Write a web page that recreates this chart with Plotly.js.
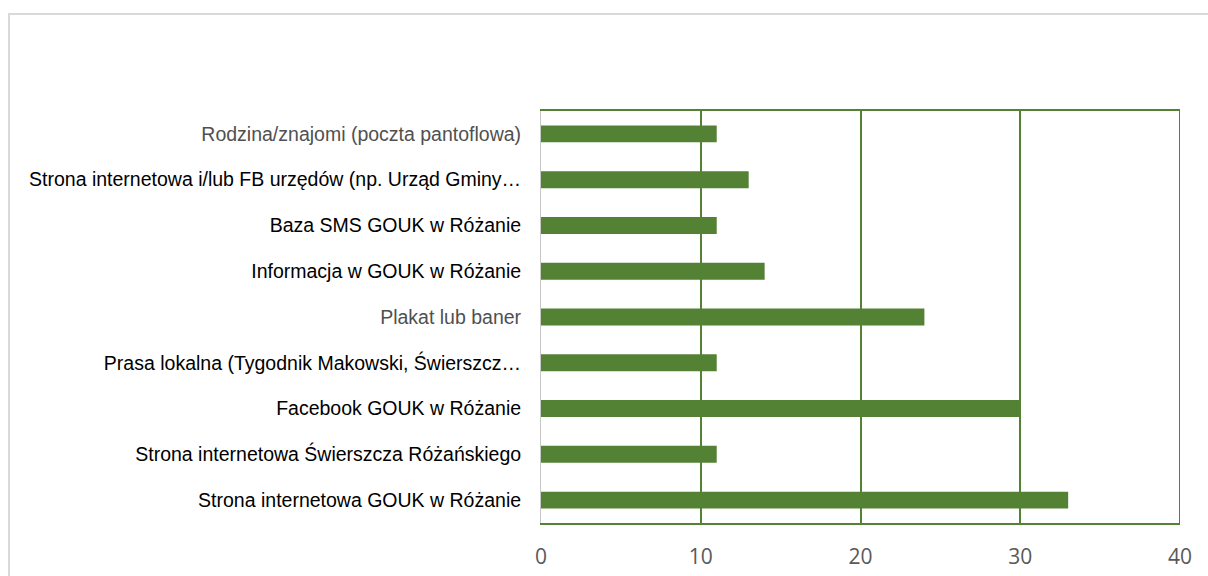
<!DOCTYPE html>
<html><head><meta charset="utf-8">
<script src="https://cdn.plot.ly/plotly-3.0.1.min.js"></script>
<style>
html,body{margin:0;padding:0;background:#fff;}
#wrap{position:relative;width:1208px;height:576px;overflow:hidden;}
#frame{position:absolute;left:8px;top:13px;width:1300px;height:700px;border:2px solid #d9d9d9;box-sizing:border-box;pointer-events:none;}
#chart{position:absolute;left:0;top:0;width:1208px;height:576px;}
</style></head>
<body><div id="wrap"><div id="chart"></div><div id="frame"></div></div>
<script>
const categories = [
  "Strona internetowa GOUK w Różanie",
  "Strona internetowa Świerszcza Różańskiego",
  "Facebook GOUK w Różanie",
  "Prasa lokalna (Tygodnik Makowski, Świerszcz…",
  "Plakat lub baner",
  "Informacja w GOUK w Różanie",
  "Baza SMS GOUK w Różanie",
  "Strona internetowa i/lub FB urzędów (np. Urząd Gminy…",
  "Rodzina/znajomi (poczta pantoflowa)"
];
const values = [33, 11, 30, 11, 24, 14, 11, 13, 11];
const lightLabels = ["Plakat lub baner", "Rodzina/znajomi (poczta pantoflowa)"];
const xTicks = [0, 10, 20, 30, 40];

const green = "#548235";
const tickText = categories.map(c => lightLabels.includes(c)
  ? '<span style="color:#505050">' + c + '</span>' : c);

Plotly.newPlot("chart", [{
  type: "bar", orientation: "h",
  x: values, y: categories,
  marker: {color: green},
  hoverinfo: "x+y"
}], {
  width: 1208, height: 576,
  margin: {l: 541, r: 28, t: 111, b: 53, pad: 0},
  paper_bgcolor: "#fff", plot_bgcolor: "#fff",
  bargap: 0.63,
  showlegend: false,
  font: {family: "Liberation Sans, Arial, sans-serif", color: "#000"},
  xaxis: {
    range: [0, 40], tickvals: xTicks, ticktext: xTicks.map(String),
    showgrid: true, gridcolor: green, gridwidth: 2,
    showline: true, linecolor: green, linewidth: 2, mirror: true,
    zeroline: false, ticks: "", ticklabelstandoff: 14,
    tickfont: {family: "Open Sans, DejaVu Sans, sans-serif", size: 21, color: "#595959"}
  },
  yaxis: {
    tickvals: categories, ticktext: tickText, ticks: "",
    showline: true, linecolor: "#c8c8c8", linewidth: 1,
    showgrid: false, zeroline: false, ticklabelstandoff: 15,
    tickfont: {family: "Liberation Sans, Arial, sans-serif", size: 19.5, color: "#000"}
  },
  shapes: [{type: "line", xref: "x", yref: "paper", x0: 40, x1: 40, y0: 0, y1: 1,
            line: {color: green, width: 2}}]
}, {displayModeBar: false, staticPlot: true});
</script></body></html>
